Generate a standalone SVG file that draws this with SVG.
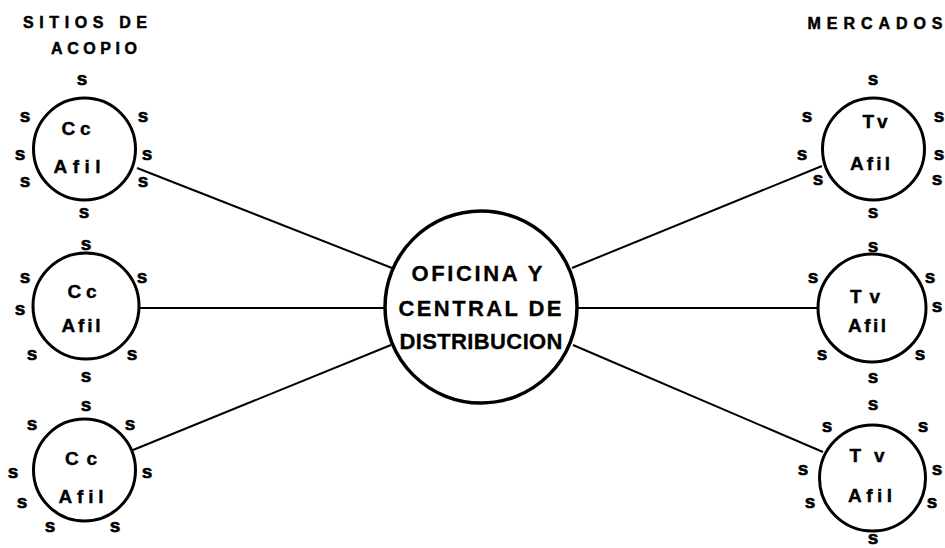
<svg xmlns="http://www.w3.org/2000/svg" width="945" height="548" viewBox="0 0 945 548">
<style>
.node{fill:#fff;stroke:#000;stroke-width:3}
.hub{fill:#fff;stroke:#000;stroke-width:3.5}
.lbl{font-family:"Liberation Sans",Arial,sans-serif;font-weight:bold;fill:#000;text-anchor:middle}
.in{font-size:19px;stroke:#000;stroke-width:0.4}
.s{font-size:19px;stroke:#000;stroke-width:0.6}
.title{font-size:16px;stroke:#000;stroke-width:0.5}
.ctr{font-size:22px;stroke:#000;stroke-width:0.3}
.con line{stroke:#000;stroke-width:2}
</style>
<rect width="945" height="548" fill="#fff"/>
<g id="titles">
<text class="lbl title" x="85" y="28" textLength="124" lengthAdjust="spacing">SITIOS DE</text>
<text class="lbl title" x="94" y="54" textLength="86" lengthAdjust="spacing">ACOPIO</text>
<text class="lbl title" x="875" y="29" textLength="135" lengthAdjust="spacing">MERCADOS</text>
</g>
<g id="connectors" class="con">
<line x1="137" y1="168" x2="392" y2="268"/>
<line x1="138" y1="308" x2="385" y2="308"/>
<line x1="133" y1="450" x2="391" y2="345"/>
<line x1="572" y1="268" x2="822" y2="166"/>
<line x1="577" y1="308" x2="817" y2="308"/>
<line x1="573" y1="345" x2="823" y2="452"/>
</g>
<g id="central">
<circle class="hub" cx="481" cy="307" r="96"/>
<text class="lbl ctr" x="477" y="281" textLength="131" lengthAdjust="spacing">OFICINA Y</text>
<text class="lbl ctr" x="480" y="316" textLength="163" lengthAdjust="spacing">CENTRAL DE</text>
<text class="lbl ctr" x="481" y="349" textLength="163" lengthAdjust="spacing">DISTRIBUCION</text>
</g>
<g id="cc1">
<circle class="node" cx="84.5" cy="149" r="51"/>
<text class="lbl in" x="76" y="135" textLength="29" lengthAdjust="spacing">Cc</text>
<text class="lbl in" x="77" y="173" textLength="47" lengthAdjust="spacing">Afil</text>
<g class="lbl s">
<text x="82" y="85">s</text><text x="25" y="122">s</text><text x="20" y="160">s</text><text x="25" y="187">s</text>
<text x="143" y="122">s</text><text x="147" y="160">s</text><text x="143" y="187">s</text><text x="84" y="218">s</text>
</g>
</g>
<g id="cc2">
<circle class="node" cx="86" cy="306" r="53"/>
<text class="lbl in" x="82" y="298" textLength="29" lengthAdjust="spacing">Cc</text>
<text class="lbl in" x="81" y="332" textLength="39" lengthAdjust="spacing">Afil</text>
<g class="lbl s">
<text x="86" y="250">s</text><text x="25" y="283">s</text><text x="20" y="315">s</text><text x="32" y="360">s</text>
<text x="142" y="283">s</text><text x="132" y="360">s</text><text x="86" y="382">s</text>
</g>
</g>
<g id="cc3">
<circle class="node" cx="84.5" cy="470" r="51"/>
<text class="lbl in" x="81" y="465" textLength="32" lengthAdjust="spacing">Cc</text>
<text class="lbl in" x="81" y="503" textLength="45" lengthAdjust="spacing">Afil</text>
<g class="lbl s">
<text x="86" y="411">s</text><text x="32" y="430">s</text><text x="130" y="430">s</text><text x="13" y="478">s</text>
<text x="147" y="478">s</text><text x="22" y="508">s</text><text x="50" y="532">s</text><text x="115" y="532">s</text>
</g>
</g>
<g id="tv1">
<circle class="node" cx="873.5" cy="149" r="51"/>
<text class="lbl in" x="875" y="128" textLength="25" lengthAdjust="spacing">Tv</text>
<text class="lbl in" x="870" y="170" textLength="40" lengthAdjust="spacing">Afil</text>
<g class="lbl s">
<text x="873" y="85">s</text><text x="807" y="122">s</text><text x="802" y="160">s</text><text x="818" y="185">s</text>
<text x="939" y="122">s</text><text x="939" y="160">s</text><text x="937" y="185">s</text><text x="873" y="218">s</text>
</g>
</g>
<g id="tv2">
<circle class="node" cx="872" cy="308" r="54"/>
<text class="lbl in" x="865" y="303" textLength="30" lengthAdjust="spacing">Tv</text>
<text class="lbl in" x="867" y="332" textLength="38" lengthAdjust="spacing">Afil</text>
<g class="lbl s">
<text x="873" y="252">s</text><text x="813" y="283">s</text><text x="930" y="283">s</text><text x="937" y="312">s</text>
<text x="822" y="360">s</text><text x="920" y="360">s</text><text x="873" y="383">s</text>
</g>
</g>
<g id="tv3">
<circle class="node" cx="872.5" cy="478" r="53"/>
<text class="lbl in" x="867" y="462" textLength="35" lengthAdjust="spacing">Tv</text>
<text class="lbl in" x="870" y="502" textLength="44" lengthAdjust="spacing">Afil</text>
<g class="lbl s">
<text x="873" y="410">s</text><text x="827" y="432">s</text><text x="923" y="432">s</text><text x="803" y="475">s</text>
<text x="937" y="475">s</text><text x="810" y="508">s</text><text x="932" y="508">s</text><text x="873" y="544">s</text>
</g>
</g>
</svg>
